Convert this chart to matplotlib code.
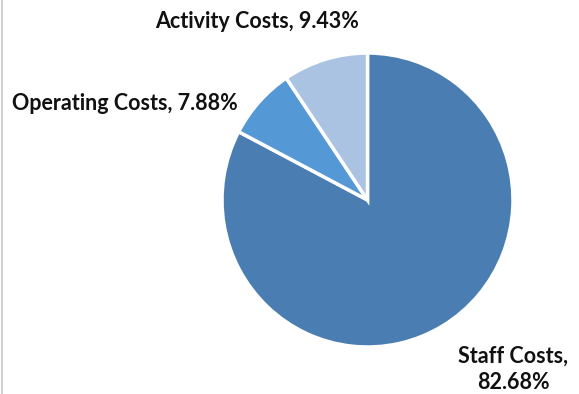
import matplotlib.pyplot as plt
from matplotlib.lines import Line2D

categories = ["Staff Costs", "Operating Costs", "Activity Costs"]
shares = [82.68, 7.88, 9.43]
colors = ["#4a7eb3", "#5598d6", "#aac3e3"]

W, H = 579, 394
fig = plt.figure(figsize=(W / 100, H / 100), dpi=100)

# pie is slightly taller than wide, so keep the axes aspect free
ax = fig.add_axes([222 / W, (H - 347) / H, 291 / W, 294 / H])
ax.pie(
    shares,
    colors=colors,
    startangle=90,
    counterclock=False,
    wedgeprops=dict(edgecolor="white", linewidth=2.5),
)
ax.set_aspect("auto")
ax.set_xlim(-1, 1)
ax.set_ylim(-1, 1)

font = dict(family="Lato", fontweight="bold", fontsize=15.5, color="#111111")
labels = [f"{c}, {v:.2f}%" for c, v in zip(categories, shares)]

fig.text(257 / W, 1 - 21 / H, labels[2], ha="center", va="center", **font)
fig.text(12 / W, 1 - 103 / H, labels[1], ha="left", va="center", **font)
fig.text(
    513 / W, 1 - 369 / H, labels[0].replace(", ", ",\n"),
    ha="center", va="center", linespacing=1.3, **font
)

# thin frame edge on the left
fig.add_artist(Line2D([1.5 / W, 1.5 / W], [0, 1], color="#d0d0d0", linewidth=1.5))

fig.savefig("out.png", dpi=100)
